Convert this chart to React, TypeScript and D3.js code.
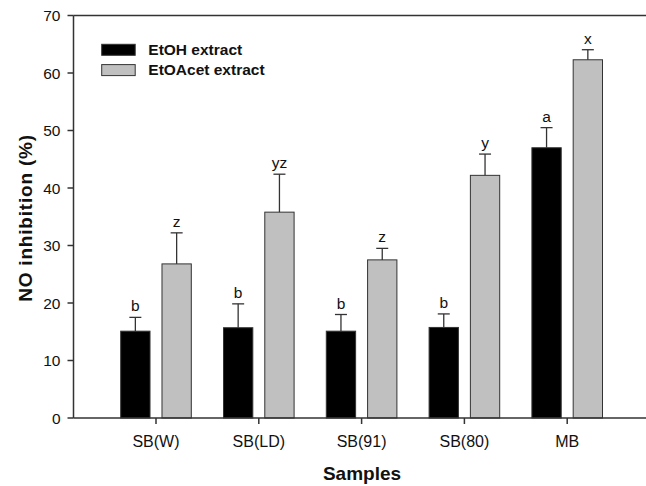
import React from "react";
import * as d3 from "d3";

const categories = ["SB(W)", "SB(LD)", "SB(91)", "SB(80)", "MB"];
const seriesNames = ["EtOH extract", "EtOAcet extract"];
const etohValues = [15.1, 15.7, 15.1, 15.75, 47.0];
const etohErrors = [2.4, 4.15, 2.9, 2.35, 3.5];
const etohLetters = ["b", "b", "b", "b", "a"];
const etoacValues = [26.8, 35.8, 27.5, 42.2, 62.3];
const etoacErrors = [5.4, 6.6, 2.0, 3.7, 1.75];
const etoacLetters = ["z", "yz", "z", "y", "x"];
const yTicks = [0, 10, 20, 30, 40, 50, 60, 70];
const seriesColors = ["#000000", "#c0c0c0"];

const W = 646;
const H = 486;
const axisLeft = 73.5;
const plotRight = 646;
const yTop = 15.5;
const yBottom = 418;

export default function App() {
  const y = d3.scaleLinear().domain([0, 70]).range([yBottom, yTop]);
  const x = d3.scaleBand<string>().domain(categories).range([104.6, 618.6]).paddingInner(0).paddingOuter(0);
  const xs = d3.scaleBand<string>().domain(seriesNames).range([-35.3, 35.3]).paddingInner(0.29).paddingOuter(0);
  const font = "'Liberation Sans', Arial, sans-serif";
  const axisColor = "#333";

  const series = [
    { name: seriesNames[0], values: etohValues, errors: etohErrors, letters: etohLetters, color: seriesColors[0] },
    { name: seriesNames[1], values: etoacValues, errors: etoacErrors, letters: etoacLetters, color: seriesColors[1] },
  ];

  return (
    <svg width={W} height={H} style={{ position: "absolute", left: 0, top: 0, background: "#fff" }} fontFamily={font}>
      {/* top frame line */}
      <line x1={axisLeft} x2={plotRight} y1={yTop} y2={yTop} stroke={axisColor} strokeWidth={1.5} />
      {/* bars */}
      {series.map((s) =>
        categories.map((c, i) => {
          const cx = (x(c) as number) + x.bandwidth() / 2;
          const bx = cx + (xs(s.name) as number);
          const bw = xs.bandwidth();
          const top = y(s.values[i]);
          const errTop = y(s.values[i] + s.errors[i]);
          const mid = bx + bw / 2;
          return (
            <g key={s.name + c}>
              <rect x={bx} y={top} width={bw} height={yBottom - top} fill={s.color} stroke="#333" strokeWidth={1} />
              <line x1={mid} x2={mid} y1={top} y2={errTop} stroke="#333" strokeWidth={1.3} />
              <line x1={mid - 6} x2={mid + 6} y1={errTop} y2={errTop} stroke="#333" strokeWidth={1.3} />
              <text x={mid} y={errTop - 6} textAnchor="middle" fontSize={15.5} fill="#111">
                {s.letters[i]}
              </text>
            </g>
          );
        })
      )}
      {/* x axis */}
      <line x1={axisLeft} x2={plotRight} y1={yBottom} y2={yBottom} stroke={axisColor} strokeWidth={1.5} />
      {categories.map((c) => {
        const cx = (x(c) as number) + x.bandwidth() / 2;
        return (
          <g key={c}>
            <line x1={cx} x2={cx} y1={yBottom} y2={yBottom + 6} stroke={axisColor} strokeWidth={1.5} />
            <text x={cx} y={446.5} textAnchor="middle" fontSize={16} fill="#111">
              {c}
            </text>
          </g>
        );
      })}
      {/* y axis */}
      <line x1={axisLeft} x2={axisLeft} y1={yTop} y2={yBottom} stroke={axisColor} strokeWidth={1.5} />
      {yTicks.map((t) => (
        <g key={t}>
          <line x1={axisLeft - 6} x2={axisLeft} y1={y(t)} y2={y(t)} stroke={axisColor} strokeWidth={1.5} />
          <text x={axisLeft - 13} y={y(t)} dy="0.36em" textAnchor="end" fontSize={15.5} fill="#111">
            {t}
          </text>
        </g>
      ))}
      {/* axis titles */}
      <text x={362} y={480} textAnchor="middle" fontSize={19} fontWeight="bold" fill="#111">
        Samples
      </text>
      <text
        transform={`translate(32, 218) rotate(-90)`}
        textAnchor="middle"
        fontSize={19}
        fontWeight="bold"
        letterSpacing={0.8}
        fill="#111"
      >
        NO inhibition (%)
      </text>
      {/* legend */}
      {series.map((s, i) => (
        <g key={s.name} transform={`translate(101.7, ${44.3 + i * 20.3})`}>
          <rect x={0} y={0} width={33.5} height={11} fill={s.color} stroke="#333" strokeWidth={1} />
          <text x={46.6} y={10.8} fontSize={15.5} fontWeight="bold" fill="#111">
            {s.name}
          </text>
        </g>
      ))}
    </svg>
  );
}
